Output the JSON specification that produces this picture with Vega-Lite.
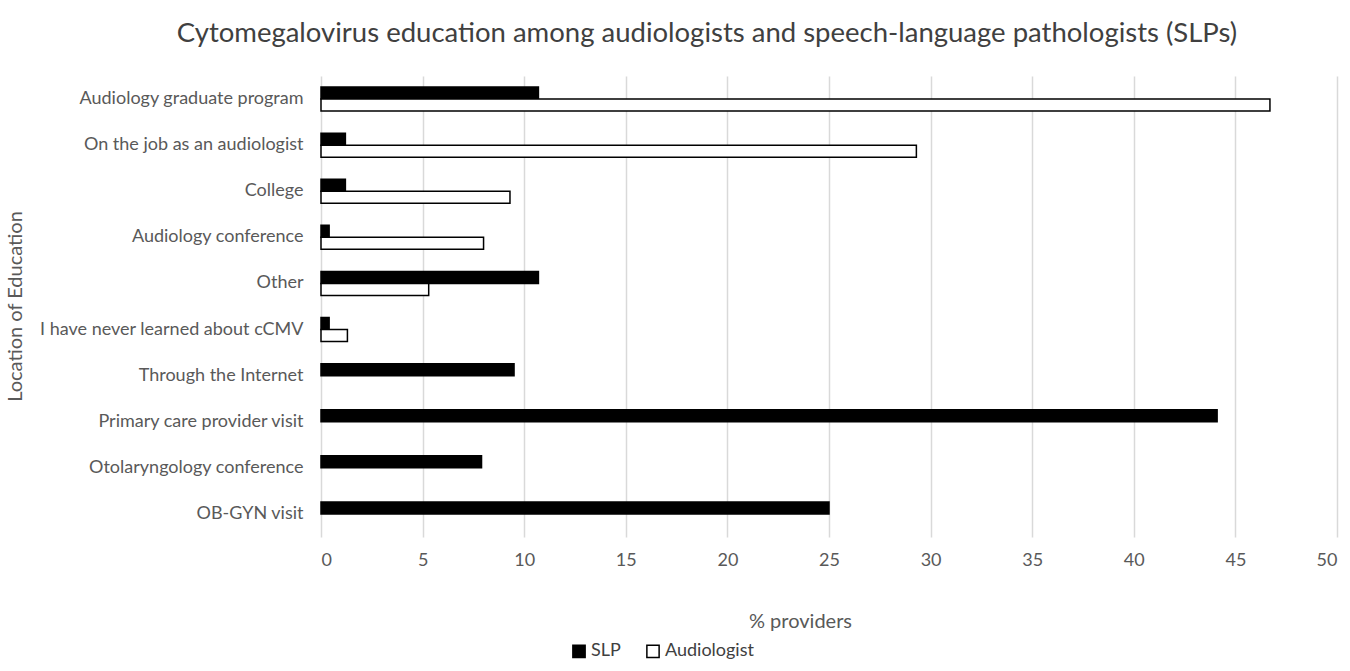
{
  "$schema": "https://vega.github.io/schema/vega-lite/v6.json",
  "autosize": "none",
  "width": 1016,
  "height": 461,
  "padding": {"left": 321, "top": 76, "right": 13, "bottom": 134},
  "background": "white",
  "title": {
    "text": "Cytomegalovirus education among audiologists and speech-language pathologists (SLPs)",
    "font": "Lato",
    "fontSize": 27.5,
    "fontWeight": "normal",
    "color": "#404040",
    "anchor": "middle",
    "dx": -122,
    "offset": 29
  },
  "data": {
    "values": [
      {"location": "Audiology graduate program", "group": "SLP", "pct": 10.7},
      {"location": "Audiology graduate program", "group": "Audiologist", "pct": 46.7},
      {"location": "On the job as an audiologist", "group": "SLP", "pct": 1.2},
      {"location": "On the job as an audiologist", "group": "Audiologist", "pct": 29.3},
      {"location": "College", "group": "SLP", "pct": 1.2},
      {"location": "College", "group": "Audiologist", "pct": 9.3},
      {"location": "Audiology conference", "group": "SLP", "pct": 0.4},
      {"location": "Audiology conference", "group": "Audiologist", "pct": 8.0},
      {"location": "Other", "group": "SLP", "pct": 10.7},
      {"location": "Other", "group": "Audiologist", "pct": 5.3},
      {"location": "I have never learned about cCMV", "group": "SLP", "pct": 0.4},
      {"location": "I have never learned about cCMV", "group": "Audiologist", "pct": 1.3},
      {"location": "Through the Internet", "group": "SLP", "pct": 9.5},
      {"location": "Primary care provider visit", "group": "SLP", "pct": 44.1},
      {"location": "Otolaryngology conference", "group": "SLP", "pct": 7.9},
      {"location": "OB-GYN visit", "group": "SLP", "pct": 25.0}
    ]
  },
  "mark": {"type": "bar", "stroke": "#000000", "strokeWidth": 1.5},
  "encoding": {
    "y": {
      "field": "location",
      "type": "nominal",
      "sort": ["Audiology graduate program", "On the job as an audiologist", "College", "Audiology conference", "Other", "I have never learned about cCMV", "Through the Internet", "Primary care provider visit", "Otolaryngology conference", "OB-GYN visit"],
      "scale": {"paddingInner": 0.48, "paddingOuter": 0.24},
      "axis": {
        "title": "Location of Education",
        "titleFont": "Lato",
        "titleFontSize": 20,
        "titleFontWeight": "normal",
        "titleColor": "#595959",
        "titleX": -296,
        "titleY": 230,
        "titleAngle": -90,
        "labelFont": "Lato",
        "labelFontSize": 18,
        "labelColor": "#595959",
        "labelPadding": 18,
        "labelLimit": 0,
        "ticks": false,
        "domain": false,
        "grid": false
      }
    },
    "yOffset": {"field": "group", "type": "nominal", "sort": ["SLP", "Audiologist"]},
    "x": {
      "field": "pct",
      "type": "quantitative",
      "scale": {"domain": [0, 50], "nice": false},
      "axis": {
        "title": "% providers",
        "titleFont": "Lato",
        "titleFontSize": 20,
        "titleFontWeight": "normal",
        "titleColor": "#595959",
        "titleX": 479,
        "titlePadding": 42,
        "values": [0, 5, 10, 15, 20, 25, 30, 35, 40, 45, 50],
        "labelFont": "Lato",
        "labelFontSize": 18,
        "labelColor": "#595959",
        "labelPadding": 14,
        "ticks": false,
        "domain": false,
        "grid": true,
        "gridColor": "#d9d9d9",
        "gridWidth": 1.5
      }
    },
    "fill": {
      "field": "group",
      "type": "nominal",
      "scale": {"domain": ["SLP", "Audiologist"], "range": ["#000000", "#ffffff"]},
      "legend": {
        "title": null,
        "orient": "none",
        "direction": "horizontal",
        "legendX": 249,
        "legendY": 566,
        "symbolType": "square",
        "symbolSize": 150,
        "symbolStrokeColor": "#000000",
        "symbolStrokeWidth": 1.5,
        "labelFont": "Lato",
        "labelFontSize": 18,
        "labelColor": "#404040",
        "labelOffset": 3,
        "columnPadding": 22
      }
    }
  },
  "config": {"view": {"stroke": null}}
}
